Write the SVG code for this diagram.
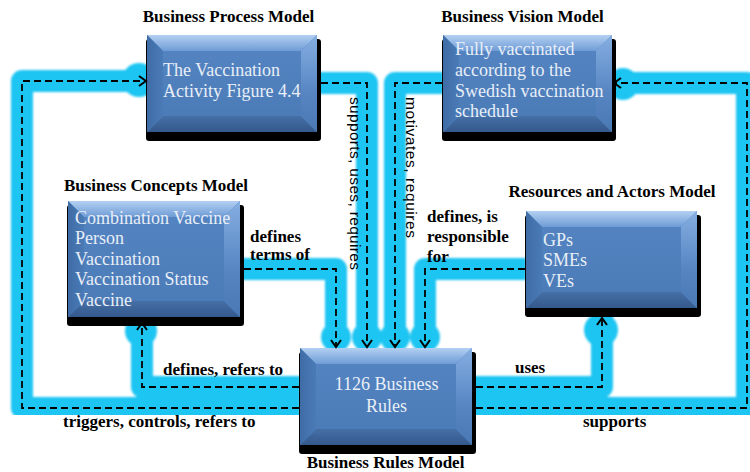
<svg xmlns="http://www.w3.org/2000/svg" width="750" height="472" viewBox="0 0 750 472">
<defs>
<style>
.title{font-family:"Liberation Serif","Times New Roman",serif;font-weight:bold;font-size:17px;fill:#000;text-anchor:middle}
.nt{font-family:"Liberation Serif","Times New Roman",serif;font-size:18px;fill:#e9eef7}
.ntc{font-family:"Liberation Serif","Times New Roman",serif;font-size:18px;fill:#e9eef7;text-anchor:middle}
.lbl{font-family:"Liberation Serif","Times New Roman",serif;font-weight:bold;font-size:17px;fill:#000}
.vlbl{font-family:"Liberation Sans",Arial,sans-serif;font-size:15.5px;fill:#000}
.band{fill:none;stroke:#1ec5f2;stroke-width:22;stroke-linejoin:round}
.blob{fill:#1ec5f2}
.dash{fill:none;stroke:#000;stroke-width:1.8;stroke-dasharray:7 4;marker-end:url(#arr)}
.shadow{fill:#000}
.base{fill:#4f81bd}
</style>
<linearGradient id="gTop" x1="0" y1="0" x2="0" y2="1"><stop offset="0" stop-color="#b3d0f2"/><stop offset="1" stop-color="#6f9cd6"/></linearGradient>
<linearGradient id="gBot" x1="0" y1="0" x2="0" y2="1"><stop offset="0" stop-color="#456fa6"/><stop offset="1" stop-color="#34598c"/></linearGradient>
<linearGradient id="gLeft" x1="0" y1="0" x2="1" y2="0"><stop offset="0" stop-color="#3f6ca5"/><stop offset="1" stop-color="#4a7bb7"/></linearGradient>
<linearGradient id="gRight" x1="0" y1="0" x2="0" y2="1"><stop offset="0" stop-color="#86afe2"/><stop offset="0.6" stop-color="#5685c2"/><stop offset="1" stop-color="#4a78b3"/></linearGradient>
<linearGradient id="gMid" x1="0" y1="0" x2="0" y2="1"><stop offset="0" stop-color="#5384c1"/><stop offset="1" stop-color="#4b7cb8"/></linearGradient>
<filter id="soft" x="-2%" y="-2%" width="104%" height="104%"><feGaussianBlur stdDeviation="0.8"/></filter>
<marker id="arr" viewBox="0 0 12 12" refX="10" refY="6" markerWidth="12" markerHeight="12" markerUnits="userSpaceOnUse" orient="auto">
<path d="M3,1 L10,6 L3,11" fill="none" stroke="#000" stroke-width="2"/>
</marker>
</defs>
<rect width="750" height="472" fill="#fff"/>

<g id="connector-halos" filter="url(#soft)">
<path class="band" d="M300,408 H22 V81 H147"/>
<path class="band" d="M300,387 H142 V317"/>
<path class="band" d="M240,269 H336 V348"/>
<path class="band" d="M317,83 H367 V348"/>
<path class="band" d="M443,83 H395 V348"/>
<path class="band" d="M526,269 H425 V348"/>
<path class="band" d="M472,387 H602 V308"/>
<path class="band" d="M472,408 H747 V83 H612"/>
<circle class="blob" cx="139" cy="80" r="17"/>
<circle class="blob" cx="623" cy="84" r="16"/>
<circle class="blob" cx="141" cy="331" r="16"/>
<circle class="blob" cx="601" cy="330" r="17"/>
<circle class="blob" cx="336" cy="337" r="15"/>
<circle class="blob" cx="367" cy="337" r="15"/>
<circle class="blob" cx="395" cy="337" r="15"/>
<circle class="blob" cx="425" cy="337" r="15"/>
</g>

<g id="business-process-model" transform="translate(147,35)">
<rect class="shadow" x="-1" y="4" width="175" height="102" rx="3"/>
<rect class="base" x="0" y="0" width="170" height="97"/>
<polygon points="0,0 170,0 154,16 16,16" fill="url(#gTop)"/>
<polygon points="0,97 170,97 154,81 16,81" fill="url(#gBot)"/>
<polygon points="0,0 16,16 16,81 0,97" fill="url(#gLeft)"/>
<polygon points="170,0 154,16 154,81 170,97" fill="url(#gRight)"/>
<rect x="16" y="16" width="138" height="65" fill="url(#gMid)"/>
<text class="title" x="81.5" y="-13">Business Process Model</text>
<text class="nt" x="16" y="41">The Vaccination</text>
<text class="nt" x="16" y="62">Activity Figure 4.4</text>
</g>

<g id="business-vision-model" transform="translate(443,35)">
<rect class="shadow" x="-1" y="4" width="174" height="102" rx="3"/>
<rect class="base" x="0" y="0" width="169" height="97"/>
<polygon points="0,0 169,0 153,16 16,16" fill="url(#gTop)"/>
<polygon points="0,97 169,97 153,81 16,81" fill="url(#gBot)"/>
<polygon points="0,0 16,16 16,81 0,97" fill="url(#gLeft)"/>
<polygon points="169,0 153,16 153,81 169,97" fill="url(#gRight)"/>
<rect x="16" y="16" width="137" height="65" fill="url(#gMid)"/>
<text class="title" x="79.5" y="-13">Business Vision Model</text>
<text class="nt" x="12" y="20">Fully vaccinated</text>
<text class="nt" x="12" y="41">according to the</text>
<text class="nt" x="12" y="62">Swedish vaccination</text>
<text class="nt" x="12" y="82">schedule</text>
</g>

<g id="business-concepts-model" transform="translate(68,201)">
<rect class="shadow" x="-1" y="4" width="177" height="121" rx="3"/>
<rect class="base" x="0" y="0" width="172" height="116"/>
<polygon points="0,0 172,0 156,16 16,16" fill="url(#gTop)"/>
<polygon points="0,116 172,116 156,100 16,100" fill="url(#gBot)"/>
<polygon points="0,0 16,16 16,100 0,116" fill="url(#gLeft)"/>
<polygon points="172,0 156,16 156,100 172,116" fill="url(#gRight)"/>
<rect x="16" y="16" width="140" height="84" fill="url(#gMid)"/>
<text class="title" x="88" y="-10">Business Concepts Model</text>
<text class="nt" x="7" y="23">Combination Vaccine</text>
<text class="nt" x="7" y="43">Person</text>
<text class="nt" x="7" y="64">Vaccination</text>
<text class="nt" x="7" y="84">Vaccination Status</text>
<text class="nt" x="7" y="105">Vaccine</text>
</g>

<g id="resources-and-actors-model" transform="translate(526,211)">
<rect class="shadow" x="-1" y="4" width="176" height="102" rx="3"/>
<rect class="base" x="0" y="0" width="171" height="97"/>
<polygon points="0,0 171,0 155,16 16,16" fill="url(#gTop)"/>
<polygon points="0,97 171,97 155,81 16,81" fill="url(#gBot)"/>
<polygon points="0,0 16,16 16,81 0,97" fill="url(#gLeft)"/>
<polygon points="171,0 155,16 155,81 171,97" fill="url(#gRight)"/>
<rect x="16" y="16" width="139" height="65" fill="url(#gMid)"/>
<text class="title" x="86" y="-14">Resources and Actors Model</text>
<text class="nt" x="17" y="35">GPs</text>
<text class="nt" x="17" y="55">SMEs</text>
<text class="nt" x="17" y="76">VEs</text>
</g>

<g id="business-rules-model" transform="translate(300,348)">
<rect class="shadow" x="-1" y="4" width="177" height="102" rx="3"/>
<rect class="base" x="0" y="0" width="172" height="97"/>
<polygon points="0,0 172,0 156,16 16,16" fill="url(#gTop)"/>
<polygon points="0,97 172,97 156,81 16,81" fill="url(#gBot)"/>
<polygon points="0,0 16,16 16,81 0,97" fill="url(#gLeft)"/>
<polygon points="172,0 156,16 156,81 172,97" fill="url(#gRight)"/>
<rect x="16" y="16" width="140" height="65" fill="url(#gMid)"/>
<text class="title" x="85.5" y="120">Business Rules Model</text>
<text class="ntc" x="86.5" y="42">1126 Business</text>
<text class="ntc" x="86.5" y="64">Rules</text>
</g>

<g id="connectors">
<path class="dash" d="M299,408 H22 V81 H146"/>
<path class="dash" d="M299,387 H142 V323"/>
<path class="dash" d="M244,269 H336 V347"/>
<path class="dash" d="M321,83 H367 V347"/>
<path class="dash" d="M442,83 H395 V347"/>
<path class="dash" d="M525,269 H425 V347"/>
<path class="dash" d="M476,387 H602 V318"/>
<path class="dash" d="M476,408 H747 V83 H614"/>
<text class="lbl" x="163" y="375">defines, refers to</text>
<text class="lbl" x="63" y="427">triggers, controls, refers to</text>
<text class="lbl" x="250" y="242">defines</text>
<text class="lbl" x="250" y="260">terms of</text>
<text class="lbl" x="427" y="222">defines, is</text>
<text class="lbl" x="427" y="242">responsible</text>
<text class="lbl" x="427" y="262">for</text>
<text class="lbl" x="515" y="373">uses</text>
<text class="lbl" x="583" y="427">supports</text>
<text class="vlbl" transform="translate(349.5,97) rotate(90)" textLength="173">supports, uses, requires</text>
<text class="vlbl" transform="translate(406,97) rotate(90)" textLength="141">motivates, requires</text>
</g>
</svg>
